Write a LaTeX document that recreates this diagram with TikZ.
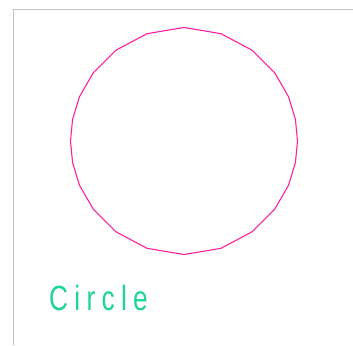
\documentclass[tikz,border=0pt]{standalone}
\usepackage{xcolor}
\usepackage{fontspec}
\usepackage{tikz}
\usetikzlibrary{positioning,calc}
\newfontfamily\labelfont[FakeStretch=0.75,LetterSpace=18]{Liberation Sans}
\definecolor{framegray}{RGB}{192,192,192}
\definecolor{ringpink}{RGB}{255,32,160}
\definecolor{labelgreen}{RGB}{30,212,155}

\begin{document}
\begin{tikzpicture}[
    x=1pt, y=-1pt,
    frame/.style={draw=framegray, line width=1.5pt},
    ring/.style={draw=ringpink, line width=1.1pt, line join=round},
    caption/.style={
        text=labelgreen,
        font=\labelfont\fontsize{35}{35}\selectfont,
        inner sep=0pt,
        anchor=base west
    }
]
\useasboundingbox (0,0) rectangle (353,345);

\coordinate (c) at (184,141);
\draw[frame] (13.5,345) -- (13.5,9.5) -- (353,9.5);

\draw[ring, shift={(c)}] plot[samples at={0,11,23,37,53,71,90,109,127,143,157,169,180,191,203,217,233,251,270,289,307,323,337,349}]
    (\x:113.5) -- cycle;

\node[caption] (lbl) at (49,310.5) {Circle};
\end{tikzpicture}
\end{document}
